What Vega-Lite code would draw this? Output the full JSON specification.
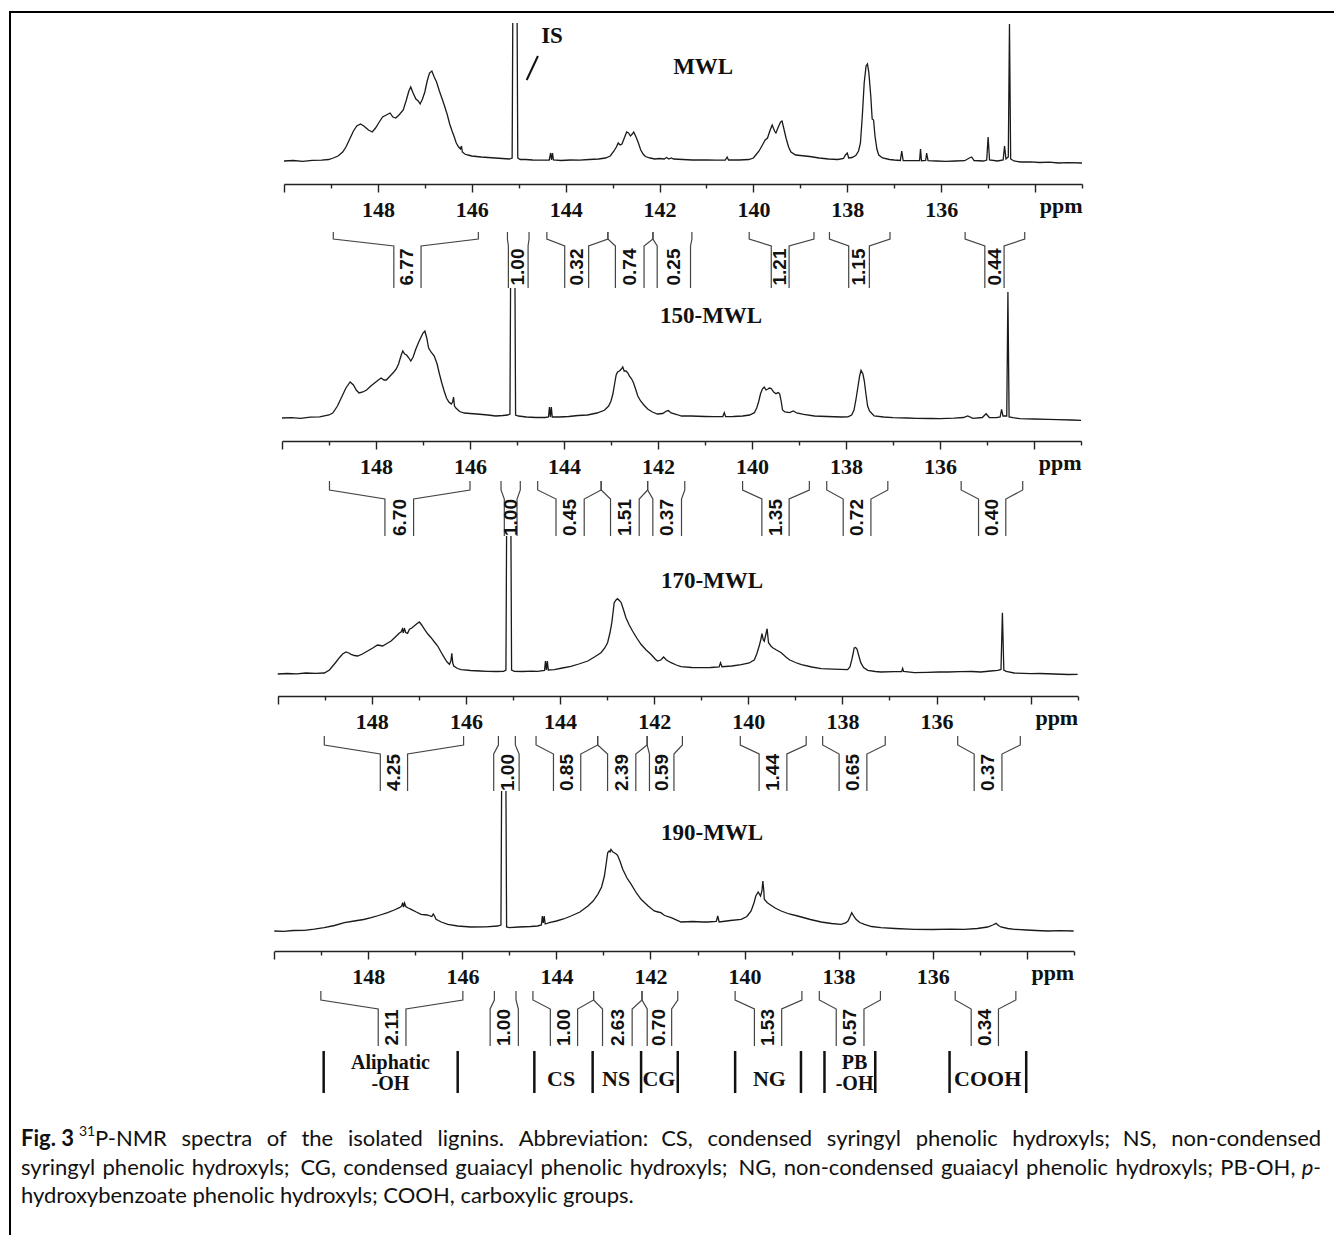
{
"$schema": "https://vega.github.io/schema/vega-lite/v6.json",
"padding": {"left": 8, "top": 10, "right": 0, "bottom": 0},
"background": "white",
"spacing": 0,
"bounds": "flush",
"config": {
 "view": {"stroke": null},
 "axis": {"grid": false, "domainColor": "#222", "domainWidth": 1.5, "tickColor": "#222", "tickWidth": 1.4, "labelFont": "Liberation Serif", "labelFontSize": 22, "labelFontWeight": "bold", "labelColor": "#111", "labelPadding": 7, "labelFlush": false, "labelOverlap": false, "labelBound": false, "format": "d"}
},
"datasets": {
 "s1": [{"ppm":150.0,"v":0},{"ppm":149.8,"v":0.5},{"ppm":149.6,"v":-0.3},{"ppm":149.4,"v":0.6},{"ppm":149.2,"v":0.8},{"ppm":149.05,"v":1.5},{"ppm":148.95,"v":3},{"ppm":148.85,"v":5},{"ppm":148.75,"v":9},{"ppm":148.68,"v":14},{"ppm":148.6,"v":22},{"ppm":148.52,"v":30},{"ppm":148.45,"v":35},{"ppm":148.37,"v":37},{"ppm":148.3,"v":35},{"ppm":148.2,"v":31},{"ppm":148.12,"v":29},{"ppm":148.05,"v":33},{"ppm":147.97,"v":39},{"ppm":147.9,"v":44},{"ppm":147.82,"v":46},{"ppm":147.74,"v":48},{"ppm":147.68,"v":44},{"ppm":147.62,"v":43},{"ppm":147.55,"v":46},{"ppm":147.46,"v":51},{"ppm":147.4,"v":60},{"ppm":147.34,"v":70},{"ppm":147.3,"v":74},{"ppm":147.25,"v":68},{"ppm":147.19,"v":62},{"ppm":147.14,"v":60},{"ppm":147.1,"v":57},{"ppm":147.05,"v":62},{"ppm":147.0,"v":69},{"ppm":146.95,"v":80},{"ppm":146.9,"v":88},{"ppm":146.85,"v":90},{"ppm":146.8,"v":84},{"ppm":146.75,"v":79},{"ppm":146.69,"v":70},{"ppm":146.63,"v":62},{"ppm":146.58,"v":55},{"ppm":146.52,"v":46},{"ppm":146.47,"v":37},{"ppm":146.42,"v":30},{"ppm":146.38,"v":25},{"ppm":146.33,"v":18},{"ppm":146.28,"v":14},{"ppm":146.24,"v":12},{"ppm":146.22,"v":15},{"ppm":146.2,"v":9},{"ppm":146.15,"v":7},{"ppm":146.08,"v":6},{"ppm":146.0,"v":5},{"ppm":145.9,"v":4.5},{"ppm":145.8,"v":4},{"ppm":145.65,"v":3.5},{"ppm":145.5,"v":3},{"ppm":145.35,"v":2.5},{"ppm":145.2,"v":2},{"ppm":145.14,"v":3},{"ppm":145.11,"v":300},{"ppm":145.05,"v":300},{"ppm":145.02,"v":3},{"ppm":144.97,"v":1.5},{"ppm":144.85,"v":1.5},{"ppm":144.7,"v":1},{"ppm":144.5,"v":0.8},{"ppm":144.35,"v":1},{"ppm":144.32,"v":8},{"ppm":144.3,"v":1},{"ppm":144.28,"v":8},{"ppm":144.26,"v":1},{"ppm":144.1,"v":0.5},{"ppm":143.9,"v":1},{"ppm":143.7,"v":0.8},{"ppm":143.5,"v":1.5},{"ppm":143.3,"v":2},{"ppm":143.15,"v":3},{"ppm":143.05,"v":5},{"ppm":142.97,"v":10},{"ppm":142.92,"v":14},{"ppm":142.88,"v":18},{"ppm":142.84,"v":16},{"ppm":142.8,"v":17},{"ppm":142.75,"v":23},{"ppm":142.7,"v":29},{"ppm":142.66,"v":28},{"ppm":142.62,"v":25},{"ppm":142.58,"v":27},{"ppm":142.55,"v":29},{"ppm":142.5,"v":24},{"ppm":142.45,"v":18},{"ppm":142.4,"v":11},{"ppm":142.35,"v":7},{"ppm":142.3,"v":4.5},{"ppm":142.2,"v":3},{"ppm":142.1,"v":2},{"ppm":142.0,"v":2.5},{"ppm":141.9,"v":2},{"ppm":141.85,"v":3.5},{"ppm":141.8,"v":2},{"ppm":141.75,"v":3},{"ppm":141.7,"v":2},{"ppm":141.5,"v":1.5},{"ppm":141.3,"v":1},{"ppm":141.0,"v":1},{"ppm":140.8,"v":0.8},{"ppm":140.6,"v":1},{"ppm":140.56,"v":4},{"ppm":140.53,"v":1},{"ppm":140.3,"v":1},{"ppm":140.1,"v":1.5},{"ppm":140.0,"v":3},{"ppm":139.95,"v":6},{"ppm":139.88,"v":10},{"ppm":139.82,"v":15},{"ppm":139.75,"v":21},{"ppm":139.7,"v":23},{"ppm":139.65,"v":30},{"ppm":139.6,"v":36},{"ppm":139.55,"v":30},{"ppm":139.52,"v":28},{"ppm":139.47,"v":34},{"ppm":139.42,"v":39},{"ppm":139.39,"v":40},{"ppm":139.35,"v":32},{"ppm":139.3,"v":22},{"ppm":139.25,"v":14},{"ppm":139.2,"v":9},{"ppm":139.1,"v":6},{"ppm":139.0,"v":5.5},{"ppm":138.9,"v":5},{"ppm":138.8,"v":4.5},{"ppm":138.6,"v":3},{"ppm":138.4,"v":2},{"ppm":138.2,"v":1.5},{"ppm":138.08,"v":2.5},{"ppm":138.04,"v":6},{"ppm":138.0,"v":8},{"ppm":137.97,"v":3},{"ppm":137.9,"v":3.5},{"ppm":137.82,"v":5.5},{"ppm":137.76,"v":10},{"ppm":137.72,"v":18},{"ppm":137.68,"v":45},{"ppm":137.64,"v":78},{"ppm":137.6,"v":95},{"ppm":137.57,"v":97},{"ppm":137.54,"v":88},{"ppm":137.5,"v":65},{"ppm":137.47,"v":42},{"ppm":137.44,"v":41},{"ppm":137.41,"v":25},{"ppm":137.37,"v":12},{"ppm":137.33,"v":6},{"ppm":137.25,"v":3},{"ppm":137.1,"v":1.5},{"ppm":137.0,"v":1},{"ppm":136.87,"v":0.5},{"ppm":136.84,"v":10},{"ppm":136.81,"v":0.5},{"ppm":136.6,"v":0.3},{"ppm":136.46,"v":0.5},{"ppm":136.44,"v":12},{"ppm":136.42,"v":0.3},{"ppm":136.33,"v":0.5},{"ppm":136.31,"v":8},{"ppm":136.28,"v":0.3},{"ppm":136.1,"v":0},{"ppm":135.9,"v":-0.3},{"ppm":135.7,"v":0},{"ppm":135.5,"v":0.3},{"ppm":135.4,"v":3},{"ppm":135.35,"v":4},{"ppm":135.3,"v":0.5},{"ppm":135.1,"v":0},{"ppm":135.03,"v":1},{"ppm":135.0,"v":24},{"ppm":134.97,"v":1},{"ppm":134.8,"v":0},{"ppm":134.68,"v":1},{"ppm":134.65,"v":15},{"ppm":134.62,"v":2},{"ppm":134.57,"v":4},{"ppm":134.545,"v":137},{"ppm":134.52,"v":2},{"ppm":134.45,"v":0},{"ppm":134.3,"v":-1},{"ppm":134.1,"v":-0.8},{"ppm":133.9,"v":-1.5},{"ppm":133.7,"v":-1.2},{"ppm":133.5,"v":-2},{"ppm":133.3,"v":-1.6},{"ppm":133.0,"v":-2}],
 "s2": [{"ppm":150.0,"v":0},{"ppm":149.8,"v":0.3},{"ppm":149.6,"v":-0.4},{"ppm":149.4,"v":0.8},{"ppm":149.2,"v":1.2},{"ppm":149.0,"v":3},{"ppm":148.92,"v":5},{"ppm":148.82,"v":12},{"ppm":148.74,"v":20},{"ppm":148.64,"v":30},{"ppm":148.55,"v":36},{"ppm":148.48,"v":33},{"ppm":148.42,"v":28},{"ppm":148.36,"v":25},{"ppm":148.28,"v":26},{"ppm":148.2,"v":28},{"ppm":148.11,"v":32},{"ppm":148.03,"v":35},{"ppm":147.95,"v":38},{"ppm":147.89,"v":40},{"ppm":147.83,"v":38},{"ppm":147.78,"v":38},{"ppm":147.7,"v":42},{"ppm":147.62,"v":46},{"ppm":147.57,"v":49},{"ppm":147.52,"v":54},{"ppm":147.47,"v":62},{"ppm":147.43,"v":67},{"ppm":147.39,"v":64},{"ppm":147.35,"v":63},{"ppm":147.3,"v":60},{"ppm":147.26,"v":57},{"ppm":147.21,"v":61},{"ppm":147.16,"v":68},{"ppm":147.1,"v":75},{"ppm":147.05,"v":80},{"ppm":147.0,"v":85},{"ppm":146.96,"v":87},{"ppm":146.92,"v":80},{"ppm":146.88,"v":70},{"ppm":146.83,"v":66},{"ppm":146.76,"v":62},{"ppm":146.7,"v":54},{"ppm":146.65,"v":44},{"ppm":146.6,"v":35},{"ppm":146.55,"v":27},{"ppm":146.5,"v":20},{"ppm":146.45,"v":16},{"ppm":146.4,"v":14},{"ppm":146.37,"v":16},{"ppm":146.35,"v":21},{"ppm":146.33,"v":12},{"ppm":146.3,"v":10},{"ppm":146.22,"v":6.5},{"ppm":146.12,"v":5},{"ppm":146.0,"v":4.5},{"ppm":145.85,"v":4},{"ppm":145.62,"v":3},{"ppm":145.45,"v":2},{"ppm":145.3,"v":2.5},{"ppm":145.2,"v":3},{"ppm":145.15,"v":4},{"ppm":145.12,"v":300},{"ppm":145.06,"v":300},{"ppm":145.03,"v":3},{"ppm":144.97,"v":2},{"ppm":144.8,"v":1},{"ppm":144.6,"v":0.5},{"ppm":144.4,"v":0.5},{"ppm":144.33,"v":1},{"ppm":144.31,"v":11},{"ppm":144.29,"v":1},{"ppm":144.27,"v":11},{"ppm":144.25,"v":1},{"ppm":144.1,"v":1},{"ppm":143.9,"v":1.5},{"ppm":143.7,"v":2.5},{"ppm":143.5,"v":3},{"ppm":143.3,"v":5},{"ppm":143.14,"v":7.7},{"ppm":143.05,"v":12},{"ppm":143.0,"v":17},{"ppm":142.96,"v":24},{"ppm":142.92,"v":35},{"ppm":142.89,"v":43},{"ppm":142.86,"v":46},{"ppm":142.82,"v":47},{"ppm":142.78,"v":49},{"ppm":142.75,"v":51},{"ppm":142.72,"v":47},{"ppm":142.68,"v":47},{"ppm":142.64,"v":45},{"ppm":142.61,"v":42},{"ppm":142.56,"v":39},{"ppm":142.52,"v":35},{"ppm":142.47,"v":28},{"ppm":142.43,"v":22},{"ppm":142.37,"v":17},{"ppm":142.3,"v":13},{"ppm":142.22,"v":9},{"ppm":142.12,"v":6},{"ppm":142.01,"v":4},{"ppm":141.9,"v":4.5},{"ppm":141.82,"v":7},{"ppm":141.78,"v":7.5},{"ppm":141.72,"v":5},{"ppm":141.6,"v":3.5},{"ppm":141.5,"v":2},{"ppm":141.3,"v":2},{"ppm":141.0,"v":1.5},{"ppm":140.8,"v":1.3},{"ppm":140.62,"v":1.5},{"ppm":140.59,"v":5.3},{"ppm":140.56,"v":1.3},{"ppm":140.4,"v":1.5},{"ppm":140.2,"v":2},{"ppm":140.05,"v":3},{"ppm":139.95,"v":5.3},{"ppm":139.9,"v":10},{"ppm":139.86,"v":16},{"ppm":139.82,"v":24},{"ppm":139.78,"v":29},{"ppm":139.74,"v":31},{"ppm":139.7,"v":28},{"ppm":139.66,"v":29},{"ppm":139.63,"v":30},{"ppm":139.59,"v":29.5},{"ppm":139.54,"v":26},{"ppm":139.49,"v":24.3},{"ppm":139.44,"v":25.5},{"ppm":139.41,"v":24},{"ppm":139.38,"v":17},{"ppm":139.35,"v":8},{"ppm":139.3,"v":6},{"ppm":139.2,"v":5.3},{"ppm":139.12,"v":7},{"ppm":139.05,"v":5},{"ppm":138.9,"v":3.7},{"ppm":138.67,"v":2},{"ppm":138.4,"v":1.5},{"ppm":138.1,"v":1},{"ppm":137.96,"v":1.2},{"ppm":137.88,"v":3},{"ppm":137.83,"v":8},{"ppm":137.79,"v":18},{"ppm":137.75,"v":30},{"ppm":137.71,"v":42},{"ppm":137.68,"v":47.7},{"ppm":137.64,"v":44},{"ppm":137.61,"v":37},{"ppm":137.57,"v":22},{"ppm":137.54,"v":12},{"ppm":137.5,"v":7},{"ppm":137.45,"v":4.5},{"ppm":137.4,"v":2},{"ppm":137.2,"v":1},{"ppm":137.0,"v":0.3},{"ppm":136.7,"v":0},{"ppm":136.5,"v":-0.3},{"ppm":136.2,"v":-0.5},{"ppm":136.0,"v":-0.7},{"ppm":135.7,"v":-0.2},{"ppm":135.5,"v":0.5},{"ppm":135.41,"v":2},{"ppm":135.3,"v":-0.3},{"ppm":135.1,"v":0.5},{"ppm":135.02,"v":4.3},{"ppm":134.95,"v":0.5},{"ppm":134.8,"v":0.3},{"ppm":134.72,"v":1},{"ppm":134.69,"v":8.7},{"ppm":134.66,"v":2},{"ppm":134.58,"v":2},{"ppm":134.555,"v":126},{"ppm":134.53,"v":1},{"ppm":134.45,"v":0.3},{"ppm":134.3,"v":-0.7},{"ppm":134.0,"v":-1},{"ppm":133.7,"v":-1.3},{"ppm":133.5,"v":-1.7},{"ppm":133.2,"v":-2},{"ppm":133.0,"v":-2.3}],
 "s3": [{"ppm":150.0,"v":-1},{"ppm":149.8,"v":-0.5},{"ppm":149.6,"v":-0.8},{"ppm":149.4,"v":0},{"ppm":149.2,"v":-0.3},{"ppm":149.01,"v":0},{"ppm":148.9,"v":3},{"ppm":148.83,"v":7},{"ppm":148.76,"v":11},{"ppm":148.69,"v":15.3},{"ppm":148.62,"v":19},{"ppm":148.55,"v":21},{"ppm":148.49,"v":20},{"ppm":148.44,"v":18.7},{"ppm":148.37,"v":17.5},{"ppm":148.3,"v":17},{"ppm":148.2,"v":19},{"ppm":148.09,"v":22},{"ppm":147.98,"v":25},{"ppm":147.88,"v":28},{"ppm":147.82,"v":27.5},{"ppm":147.77,"v":27},{"ppm":147.68,"v":29.5},{"ppm":147.59,"v":32},{"ppm":147.5,"v":36},{"ppm":147.42,"v":39.7},{"ppm":147.38,"v":41},{"ppm":147.35,"v":44},{"ppm":147.33,"v":40},{"ppm":147.31,"v":45},{"ppm":147.28,"v":40.5},{"ppm":147.24,"v":39.7},{"ppm":147.2,"v":43.7},{"ppm":147.15,"v":45},{"ppm":147.1,"v":47},{"ppm":147.05,"v":49},{"ppm":146.99,"v":51},{"ppm":146.94,"v":48},{"ppm":146.88,"v":43.7},{"ppm":146.81,"v":39},{"ppm":146.74,"v":35.3},{"ppm":146.67,"v":31},{"ppm":146.6,"v":27},{"ppm":146.53,"v":21},{"ppm":146.46,"v":15.3},{"ppm":146.4,"v":11},{"ppm":146.35,"v":8.7},{"ppm":146.32,"v":12},{"ppm":146.3,"v":19.7},{"ppm":146.28,"v":10},{"ppm":146.26,"v":7},{"ppm":146.18,"v":4.5},{"ppm":146.1,"v":3.3},{"ppm":145.9,"v":2.5},{"ppm":145.7,"v":2},{"ppm":145.54,"v":1.7},{"ppm":145.35,"v":1.5},{"ppm":145.2,"v":1.7},{"ppm":145.15,"v":3},{"ppm":145.12,"v":300},{"ppm":145.06,"v":300},{"ppm":145.03,"v":3},{"ppm":144.97,"v":1.7},{"ppm":144.8,"v":1.5},{"ppm":144.6,"v":1.8},{"ppm":144.48,"v":1.7},{"ppm":144.33,"v":2.5},{"ppm":144.31,"v":12},{"ppm":144.29,"v":3},{"ppm":144.27,"v":12},{"ppm":144.25,"v":3},{"ppm":144.12,"v":3.3},{"ppm":143.95,"v":5},{"ppm":143.77,"v":6.7},{"ppm":143.6,"v":9},{"ppm":143.41,"v":12},{"ppm":143.27,"v":16},{"ppm":143.13,"v":20.3},{"ppm":143.05,"v":25},{"ppm":142.99,"v":30.3},{"ppm":142.94,"v":40},{"ppm":142.9,"v":50.3},{"ppm":142.87,"v":62},{"ppm":142.85,"v":70.3},{"ppm":142.81,"v":73},{"ppm":142.78,"v":74.3},{"ppm":142.74,"v":72.5},{"ppm":142.7,"v":70.3},{"ppm":142.65,"v":63},{"ppm":142.6,"v":55.3},{"ppm":142.53,"v":48},{"ppm":142.46,"v":42},{"ppm":142.37,"v":35},{"ppm":142.28,"v":28.7},{"ppm":142.17,"v":23},{"ppm":142.07,"v":18.7},{"ppm":141.98,"v":14},{"ppm":141.93,"v":12},{"ppm":141.86,"v":13},{"ppm":141.8,"v":16},{"ppm":141.74,"v":13},{"ppm":141.64,"v":10.3},{"ppm":141.53,"v":8},{"ppm":141.43,"v":6.3},{"ppm":141.2,"v":5.5},{"ppm":141.0,"v":5.3},{"ppm":140.8,"v":5.5},{"ppm":140.62,"v":6},{"ppm":140.59,"v":10.3},{"ppm":140.56,"v":6.3},{"ppm":140.35,"v":7},{"ppm":140.15,"v":8.3},{"ppm":139.98,"v":10},{"ppm":139.87,"v":13.3},{"ppm":139.82,"v":19},{"ppm":139.77,"v":26.7},{"ppm":139.73,"v":34},{"ppm":139.71,"v":39.3},{"ppm":139.68,"v":33},{"ppm":139.66,"v":31.7},{"ppm":139.63,"v":38},{"ppm":139.6,"v":44.3},{"ppm":139.57,"v":30.3},{"ppm":139.52,"v":27},{"ppm":139.48,"v":25.3},{"ppm":139.4,"v":23},{"ppm":139.3,"v":20.3},{"ppm":139.2,"v":16},{"ppm":139.12,"v":13},{"ppm":139.09,"v":12.5},{"ppm":139.0,"v":10.5},{"ppm":138.87,"v":8.3},{"ppm":138.65,"v":6},{"ppm":138.45,"v":4.3},{"ppm":138.2,"v":3.8},{"ppm":137.89,"v":3.3},{"ppm":137.84,"v":6},{"ppm":137.8,"v":13.3},{"ppm":137.77,"v":20},{"ppm":137.75,"v":25},{"ppm":137.72,"v":25.5},{"ppm":137.69,"v":24},{"ppm":137.65,"v":17},{"ppm":137.61,"v":10.3},{"ppm":137.55,"v":5.5},{"ppm":137.46,"v":2.7},{"ppm":137.3,"v":1.5},{"ppm":137.18,"v":1},{"ppm":136.9,"v":1.3},{"ppm":136.74,"v":1.5},{"ppm":136.72,"v":4.5},{"ppm":136.7,"v":1.5},{"ppm":136.47,"v":0.3},{"ppm":136.2,"v":0.7},{"ppm":135.95,"v":1},{"ppm":135.76,"v":1},{"ppm":135.5,"v":1.3},{"ppm":135.25,"v":1.5},{"ppm":135.06,"v":1},{"ppm":134.85,"v":2},{"ppm":134.7,"v":2.7},{"ppm":134.63,"v":3.5},{"ppm":134.6,"v":60.3},{"ppm":134.57,"v":3},{"ppm":134.52,"v":1.7},{"ppm":134.35,"v":0},{"ppm":134.15,"v":-0.3},{"ppm":133.99,"v":-0.7},{"ppm":133.8,"v":-0.5},{"ppm":133.5,"v":-1},{"ppm":133.2,"v":-1.5},{"ppm":133.0,"v":-1.3}],
 "s4": [{"ppm":150.0,"v":0},{"ppm":149.8,"v":-0.3},{"ppm":149.6,"v":0.5},{"ppm":149.36,"v":0.7},{"ppm":149.15,"v":1.8},{"ppm":148.94,"v":3.3},{"ppm":148.72,"v":5.5},{"ppm":148.51,"v":8.3},{"ppm":148.3,"v":10},{"ppm":148.1,"v":11.5},{"ppm":147.94,"v":13.3},{"ppm":147.78,"v":15.5},{"ppm":147.59,"v":18.3},{"ppm":147.45,"v":21},{"ppm":147.34,"v":23.3},{"ppm":147.29,"v":25},{"ppm":147.27,"v":28.3},{"ppm":147.25,"v":24},{"ppm":147.23,"v":28},{"ppm":147.2,"v":24.3},{"ppm":147.15,"v":23},{"ppm":147.09,"v":21.7},{"ppm":146.98,"v":19},{"ppm":146.88,"v":16.7},{"ppm":146.75,"v":16},{"ppm":146.65,"v":14.5},{"ppm":146.62,"v":17},{"ppm":146.6,"v":15.7},{"ppm":146.56,"v":11.7},{"ppm":146.45,"v":9},{"ppm":146.31,"v":6.7},{"ppm":146.1,"v":5},{"ppm":145.82,"v":4},{"ppm":145.5,"v":4.2},{"ppm":145.25,"v":5},{"ppm":145.18,"v":6},{"ppm":145.15,"v":300},{"ppm":145.09,"v":300},{"ppm":145.06,"v":4},{"ppm":145.0,"v":3.3},{"ppm":144.8,"v":4},{"ppm":144.55,"v":4.5},{"ppm":144.4,"v":5},{"ppm":144.32,"v":6},{"ppm":144.3,"v":15},{"ppm":144.28,"v":8},{"ppm":144.26,"v":15},{"ppm":144.24,"v":7},{"ppm":144.15,"v":8.3},{"ppm":144.0,"v":10},{"ppm":143.85,"v":12},{"ppm":143.69,"v":15},{"ppm":143.5,"v":19},{"ppm":143.33,"v":25},{"ppm":143.22,"v":30},{"ppm":143.12,"v":36.7},{"ppm":143.04,"v":44},{"ppm":142.98,"v":55},{"ppm":142.94,"v":68},{"ppm":142.91,"v":78.3},{"ppm":142.88,"v":80},{"ppm":142.86,"v":79},{"ppm":142.84,"v":81.7},{"ppm":142.8,"v":79},{"ppm":142.77,"v":78.3},{"ppm":142.73,"v":77},{"ppm":142.7,"v":75.7},{"ppm":142.65,"v":70},{"ppm":142.59,"v":61.7},{"ppm":142.5,"v":53},{"ppm":142.41,"v":46.7},{"ppm":142.3,"v":38},{"ppm":142.2,"v":31.7},{"ppm":142.05,"v":25},{"ppm":141.92,"v":20},{"ppm":141.84,"v":19},{"ppm":141.78,"v":18.3},{"ppm":141.7,"v":15.5},{"ppm":141.56,"v":13.3},{"ppm":141.35,"v":9},{"ppm":141.1,"v":9.5},{"ppm":140.9,"v":9},{"ppm":140.78,"v":9},{"ppm":140.6,"v":9.5},{"ppm":140.57,"v":15},{"ppm":140.54,"v":9},{"ppm":140.3,"v":10.5},{"ppm":140.07,"v":11.7},{"ppm":139.95,"v":14.5},{"ppm":139.86,"v":20},{"ppm":139.8,"v":28},{"ppm":139.76,"v":35},{"ppm":139.71,"v":39},{"ppm":139.66,"v":35},{"ppm":139.63,"v":40},{"ppm":139.61,"v":50},{"ppm":139.59,"v":40},{"ppm":139.58,"v":31.7},{"ppm":139.52,"v":28.5},{"ppm":139.47,"v":26.7},{"ppm":139.35,"v":23},{"ppm":139.22,"v":20},{"ppm":139.05,"v":17},{"ppm":138.87,"v":15},{"ppm":138.6,"v":11.5},{"ppm":138.37,"v":9},{"ppm":138.15,"v":7.5},{"ppm":137.95,"v":6.7},{"ppm":137.85,"v":8},{"ppm":137.8,"v":10},{"ppm":137.76,"v":14},{"ppm":137.72,"v":18.3},{"ppm":137.68,"v":15},{"ppm":137.63,"v":11.7},{"ppm":137.55,"v":8.5},{"ppm":137.45,"v":6.7},{"ppm":137.3,"v":4.5},{"ppm":137.1,"v":3.3},{"ppm":136.8,"v":2.5},{"ppm":136.39,"v":1.7},{"ppm":136.0,"v":1.5},{"ppm":135.6,"v":1.8},{"ppm":135.33,"v":1.7},{"ppm":135.05,"v":2.5},{"ppm":134.83,"v":4},{"ppm":134.72,"v":6},{"ppm":134.65,"v":7.7},{"ppm":134.6,"v":5.5},{"ppm":134.55,"v":4},{"ppm":134.4,"v":2.5},{"ppm":134.26,"v":1.7},{"ppm":134.0,"v":1},{"ppm":133.8,"v":0.5},{"ppm":133.55,"v":0},{"ppm":133.3,"v":0.3},{"ppm":133.0,"v":0}],
 "b1": [{"g":"aL","ppm":148.95,"d":0},{"g":"aL","ppm":148.95,"d":1},{"g":"aL","ppm":147.66,"d":2},{"g":"aL","ppm":147.66,"d":3},{"g":"aR","ppm":145.86,"d":0},{"g":"aR","ppm":145.86,"d":1},{"g":"aR","ppm":147.08,"d":2},{"g":"aR","ppm":147.08,"d":3},
  {"g":"bL","ppm":145.24,"d":0},{"g":"bL","ppm":145.24,"d":1},{"g":"bL","ppm":145.22,"d":2},{"g":"bL","ppm":145.22,"d":3},{"g":"bR","ppm":144.78,"d":0},{"g":"bR","ppm":144.78,"d":1},{"g":"bR","ppm":144.8,"d":2},{"g":"bR","ppm":144.8,"d":3},
  {"g":"cL","ppm":144.4,"d":0},{"g":"cL","ppm":144.4,"d":1},{"g":"cL","ppm":144.02,"d":2},{"g":"cL","ppm":144.02,"d":3},{"g":"cR","ppm":143.1,"d":0},{"g":"cR","ppm":143.1,"d":1},{"g":"cR","ppm":143.51,"d":2},{"g":"cR","ppm":143.51,"d":3},
  {"g":"dL","ppm":143.1,"d":0},{"g":"dL","ppm":143.1,"d":1},{"g":"dL","ppm":142.94,"d":2},{"g":"dL","ppm":142.94,"d":3},{"g":"dR","ppm":142.14,"d":0},{"g":"dR","ppm":142.14,"d":1},{"g":"dR","ppm":142.33,"d":2},{"g":"dR","ppm":142.33,"d":3},
  {"g":"eL","ppm":142.14,"d":0},{"g":"eL","ppm":142.14,"d":1},{"g":"eL","ppm":142.05,"d":2},{"g":"eL","ppm":142.05,"d":3},{"g":"eR","ppm":141.31,"d":0},{"g":"eR","ppm":141.31,"d":1},{"g":"eR","ppm":141.34,"d":2},{"g":"eR","ppm":141.34,"d":3},
  {"g":"fL","ppm":140.09,"d":0},{"g":"fL","ppm":140.09,"d":1},{"g":"fL","ppm":139.62,"d":2},{"g":"fL","ppm":139.62,"d":3},{"g":"fR","ppm":138.71,"d":0},{"g":"fR","ppm":138.71,"d":1},{"g":"fR","ppm":139.24,"d":2},{"g":"fR","ppm":139.24,"d":3},
  {"g":"gL","ppm":138.38,"d":0},{"g":"gL","ppm":138.38,"d":1},{"g":"gL","ppm":137.97,"d":2},{"g":"gL","ppm":137.97,"d":3},{"g":"gR","ppm":137.09,"d":0},{"g":"gR","ppm":137.09,"d":1},{"g":"gR","ppm":137.53,"d":2},{"g":"gR","ppm":137.53,"d":3},
  {"g":"hL","ppm":135.49,"d":0},{"g":"hL","ppm":135.49,"d":1},{"g":"hL","ppm":135.07,"d":2},{"g":"hL","ppm":135.07,"d":3},{"g":"hR","ppm":134.22,"d":0},{"g":"hR","ppm":134.22,"d":1},{"g":"hR","ppm":134.66,"d":2},{"g":"hR","ppm":134.66,"d":3}],
 "b2": [{"g":"aL","ppm":148.99,"d":0},{"g":"aL","ppm":148.99,"d":1},{"g":"aL","ppm":147.81,"d":2},{"g":"aL","ppm":147.81,"d":3},{"g":"aR","ppm":146.0,"d":0},{"g":"aR","ppm":146.0,"d":1},{"g":"aR","ppm":147.2,"d":2},{"g":"aR","ppm":147.2,"d":3},
  {"g":"bL","ppm":145.34,"d":0},{"g":"bL","ppm":145.34,"d":1},{"g":"bL","ppm":145.27,"d":2},{"g":"bL","ppm":145.27,"d":3},{"g":"bR","ppm":144.93,"d":0},{"g":"bR","ppm":144.93,"d":1},{"g":"bR","ppm":145.0,"d":2},{"g":"bR","ppm":145.0,"d":3},
  {"g":"cL","ppm":144.56,"d":0},{"g":"cL","ppm":144.56,"d":1},{"g":"cL","ppm":144.17,"d":2},{"g":"cL","ppm":144.17,"d":3},{"g":"cR","ppm":143.21,"d":0},{"g":"cR","ppm":143.21,"d":1},{"g":"cR","ppm":143.57,"d":2},{"g":"cR","ppm":143.57,"d":3},
  {"g":"dL","ppm":143.21,"d":0},{"g":"dL","ppm":143.21,"d":1},{"g":"dL","ppm":143.01,"d":2},{"g":"dL","ppm":143.01,"d":3},{"g":"dR","ppm":142.22,"d":0},{"g":"dR","ppm":142.22,"d":1},{"g":"dR","ppm":142.4,"d":2},{"g":"dR","ppm":142.4,"d":3},
  {"g":"eL","ppm":142.22,"d":0},{"g":"eL","ppm":142.22,"d":1},{"g":"eL","ppm":142.11,"d":2},{"g":"eL","ppm":142.11,"d":3},{"g":"eR","ppm":141.43,"d":0},{"g":"eR","ppm":141.43,"d":1},{"g":"eR","ppm":141.5,"d":2},{"g":"eR","ppm":141.5,"d":3},
  {"g":"fL","ppm":140.2,"d":0},{"g":"fL","ppm":140.2,"d":1},{"g":"fL","ppm":139.79,"d":2},{"g":"fL","ppm":139.79,"d":3},{"g":"fR","ppm":138.78,"d":0},{"g":"fR","ppm":138.78,"d":1},{"g":"fR","ppm":139.21,"d":2},{"g":"fR","ppm":139.21,"d":3},
  {"g":"gL","ppm":138.41,"d":0},{"g":"gL","ppm":138.41,"d":1},{"g":"gL","ppm":138.06,"d":2},{"g":"gL","ppm":138.06,"d":3},{"g":"gR","ppm":137.11,"d":0},{"g":"gR","ppm":137.11,"d":1},{"g":"gR","ppm":137.47,"d":2},{"g":"gR","ppm":137.47,"d":3},
  {"g":"hL","ppm":135.55,"d":0},{"g":"hL","ppm":135.55,"d":1},{"g":"hL","ppm":135.18,"d":2},{"g":"hL","ppm":135.18,"d":3},{"g":"hR","ppm":134.24,"d":0},{"g":"hR","ppm":134.24,"d":1},{"g":"hR","ppm":134.6,"d":2},{"g":"hR","ppm":134.6,"d":3}],
 "b3": [{"g":"aL","ppm":149.01,"d":0},{"g":"aL","ppm":149.01,"d":1},{"g":"aL","ppm":147.82,"d":2},{"g":"aL","ppm":147.82,"d":3},{"g":"aR","ppm":146.05,"d":0},{"g":"aR","ppm":146.05,"d":1},{"g":"aR","ppm":147.24,"d":2},{"g":"aR","ppm":147.24,"d":3},
  {"g":"bL","ppm":145.31,"d":0},{"g":"bL","ppm":145.31,"d":1},{"g":"bL","ppm":145.41,"d":2},{"g":"bL","ppm":145.41,"d":3},{"g":"bR","ppm":144.95,"d":0},{"g":"bR","ppm":144.95,"d":1},{"g":"bR","ppm":144.87,"d":2},{"g":"bR","ppm":144.87,"d":3},
  {"g":"cL","ppm":144.51,"d":0},{"g":"cL","ppm":144.51,"d":1},{"g":"cL","ppm":144.14,"d":2},{"g":"cL","ppm":144.14,"d":3},{"g":"cR","ppm":143.2,"d":0},{"g":"cR","ppm":143.2,"d":1},{"g":"cR","ppm":143.56,"d":2},{"g":"cR","ppm":143.56,"d":3},
  {"g":"dL","ppm":143.2,"d":0},{"g":"dL","ppm":143.2,"d":1},{"g":"dL","ppm":142.99,"d":2},{"g":"dL","ppm":142.99,"d":3},{"g":"dR","ppm":142.15,"d":0},{"g":"dR","ppm":142.15,"d":1},{"g":"dR","ppm":142.39,"d":2},{"g":"dR","ppm":142.39,"d":3},
  {"g":"eL","ppm":142.15,"d":0},{"g":"eL","ppm":142.15,"d":1},{"g":"eL","ppm":142.1,"d":2},{"g":"eL","ppm":142.1,"d":3},{"g":"eR","ppm":141.4,"d":0},{"g":"eR","ppm":141.4,"d":1},{"g":"eR","ppm":141.58,"d":2},{"g":"eR","ppm":141.58,"d":3},
  {"g":"fL","ppm":140.17,"d":0},{"g":"fL","ppm":140.17,"d":1},{"g":"fL","ppm":139.77,"d":2},{"g":"fL","ppm":139.77,"d":3},{"g":"fR","ppm":138.77,"d":0},{"g":"fR","ppm":138.77,"d":1},{"g":"fR","ppm":139.18,"d":2},{"g":"fR","ppm":139.18,"d":3},
  {"g":"gL","ppm":138.42,"d":0},{"g":"gL","ppm":138.42,"d":1},{"g":"gL","ppm":138.07,"d":2},{"g":"gL","ppm":138.07,"d":3},{"g":"gR","ppm":137.09,"d":0},{"g":"gR","ppm":137.09,"d":1},{"g":"gR","ppm":137.48,"d":2},{"g":"gR","ppm":137.48,"d":3},
  {"g":"hL","ppm":135.55,"d":0},{"g":"hL","ppm":135.55,"d":1},{"g":"hL","ppm":135.2,"d":2},{"g":"hL","ppm":135.2,"d":3},{"g":"hR","ppm":134.22,"d":0},{"g":"hR","ppm":134.22,"d":1},{"g":"hR","ppm":134.61,"d":2},{"g":"hR","ppm":134.61,"d":3}],
 "b4": [{"g":"aL","ppm":149.01,"d":0},{"g":"aL","ppm":149.01,"d":1},{"g":"aL","ppm":147.79,"d":2},{"g":"aL","ppm":147.79,"d":3},{"g":"aR","ppm":145.99,"d":0},{"g":"aR","ppm":145.99,"d":1},{"g":"aR","ppm":147.2,"d":2},{"g":"aR","ppm":147.2,"d":3},
  {"g":"bL","ppm":145.32,"d":0},{"g":"bL","ppm":145.32,"d":1},{"g":"bL","ppm":145.41,"d":2},{"g":"bL","ppm":145.41,"d":3},{"g":"bR","ppm":144.86,"d":0},{"g":"bR","ppm":144.86,"d":1},{"g":"bR","ppm":144.81,"d":2},{"g":"bR","ppm":144.81,"d":3},
  {"g":"cL","ppm":144.5,"d":0},{"g":"cL","ppm":144.5,"d":1},{"g":"cL","ppm":144.13,"d":2},{"g":"cL","ppm":144.13,"d":3},{"g":"cR","ppm":143.21,"d":0},{"g":"cR","ppm":143.21,"d":1},{"g":"cR","ppm":143.55,"d":2},{"g":"cR","ppm":143.55,"d":3},
  {"g":"dL","ppm":143.21,"d":0},{"g":"dL","ppm":143.21,"d":1},{"g":"dL","ppm":143.02,"d":2},{"g":"dL","ppm":143.02,"d":3},{"g":"dR","ppm":142.18,"d":0},{"g":"dR","ppm":142.18,"d":1},{"g":"dR","ppm":142.39,"d":2},{"g":"dR","ppm":142.39,"d":3},
  {"g":"eL","ppm":142.18,"d":0},{"g":"eL","ppm":142.18,"d":1},{"g":"eL","ppm":142.07,"d":2},{"g":"eL","ppm":142.07,"d":3},{"g":"eR","ppm":141.42,"d":0},{"g":"eR","ppm":141.42,"d":1},{"g":"eR","ppm":141.55,"d":2},{"g":"eR","ppm":141.55,"d":3},
  {"g":"fL","ppm":140.2,"d":0},{"g":"fL","ppm":140.2,"d":1},{"g":"fL","ppm":139.79,"d":2},{"g":"fL","ppm":139.79,"d":3},{"g":"fR","ppm":138.78,"d":0},{"g":"fR","ppm":138.78,"d":1},{"g":"fR","ppm":139.21,"d":2},{"g":"fR","ppm":139.21,"d":3},
  {"g":"gL","ppm":138.41,"d":0},{"g":"gL","ppm":138.41,"d":1},{"g":"gL","ppm":138.05,"d":2},{"g":"gL","ppm":138.05,"d":3},{"g":"gR","ppm":137.11,"d":0},{"g":"gR","ppm":137.11,"d":1},{"g":"gR","ppm":137.46,"d":2},{"g":"gR","ppm":137.46,"d":3},
  {"g":"hL","ppm":135.52,"d":0},{"g":"hL","ppm":135.52,"d":1},{"g":"hL","ppm":135.18,"d":2},{"g":"hL","ppm":135.18,"d":3},{"g":"hR","ppm":134.23,"d":0},{"g":"hR","ppm":134.23,"d":1},{"g":"hR","ppm":134.6,"d":2},{"g":"hR","ppm":134.6,"d":3}],
 "l1": [{"ppm":147.37,"t":"6.77"},{"ppm":145.01,"t":"1.00"},{"ppm":143.76,"t":"0.32"},{"ppm":142.63,"t":"0.74"},{"ppm":141.7,"t":"0.25"},{"ppm":139.43,"t":"1.21"},{"ppm":137.75,"t":"1.15"},{"ppm":134.86,"t":"0.44"}],
 "l2": [{"ppm":147.5,"t":"6.70"},{"ppm":145.13,"t":"1.00"},{"ppm":143.87,"t":"0.45"},{"ppm":142.71,"t":"1.51"},{"ppm":141.8,"t":"0.37"},{"ppm":139.5,"t":"1.35"},{"ppm":137.77,"t":"0.72"},{"ppm":134.89,"t":"0.40"}],
 "l3": [{"ppm":147.53,"t":"4.25"},{"ppm":145.1,"t":"1.00"},{"ppm":143.85,"t":"0.85"},{"ppm":142.69,"t":"2.39"},{"ppm":141.84,"t":"0.59"},{"ppm":139.48,"t":"1.44"},{"ppm":137.78,"t":"0.65"},{"ppm":134.9,"t":"0.37"}],
 "l4": [{"ppm":147.5,"t":"2.11"},{"ppm":145.11,"t":"1.00"},{"ppm":143.84,"t":"1.00"},{"ppm":142.7,"t":"2.63"},{"ppm":141.81,"t":"0.70"},{"ppm":139.5,"t":"1.53"},{"ppm":137.76,"t":"0.57"},{"ppm":134.89,"t":"0.34"}]
},
"vconcat": [
 {"width": 1325, "height": 11, "data": {"values": [{}]}, "layer": [
   {"mark": {"type": "rule", "color": "#000", "strokeWidth": 2}, "encoding": {"x": {"datum": 0, "type": "quantitative", "scale": {"domain": [0, 1], "nice": false, "zero": false}, "axis": null}, "x2": {"datum": 1}, "y": {"datum": 1, "type": "quantitative", "scale": {"domain": [0, 1], "nice": false, "zero": false}, "axis": null}}},
   {"mark": {"type": "rule", "color": "#000", "strokeWidth": 2, "strokeCap": "square"}, "encoding": {"x": {"datum": 0, "type": "quantitative"}, "y": {"datum": 0, "type": "quantitative"}, "y2": {"datum": 1}}}
 ]},
 {"hconcat": [
   {"width": 1, "height": 1213, "data": {"values": [{}]}, "mark": {"type": "rule", "color": "#000", "strokeWidth": 2}, "encoding": {"x": {"datum": 0, "type": "quantitative", "scale": {"domain": [0, 1], "nice": false, "zero": false}, "axis": null}, "y": {"datum": 0, "type": "quantitative", "scale": {"domain": [0, 1], "nice": false, "zero": false}, "axis": null}, "y2": {"datum": 1}}},
   {"vconcat": [
     {"width": 1300, "height": 161, "layer": [
       {"data": {"name": "s1"}, "mark": {"type": "line", "color": "#1a1a1a", "strokeWidth": 1.3, "clip": true}, "encoding": {
         "x": {"field": "ppm", "type": "quantitative", "scale": {"domain": [133, 150], "range": [1061, 263], "nice": false, "zero": false}, "axis": {"title": null, "format": "d", "values": [150,149,148,147,146,145,144,143,142,141,140,139,138,137,136,135,134,133], "labelExpr": "datum.value == 133 ? 'ppm' : ((datum.value % 2 == 0 && datum.value >= 136 && datum.value <= 148) ? datum.label : '')", "tickSize": {"condition": {"test": "datum.value % 2 == 0", "value": 8}, "value": 4}, "labelAlign": {"condition": {"test": "datum.value == 133", "value": "right"}, "value": "center"}}},
         "y": {"field": "v", "type": "quantitative", "scale": {"domain": [-23, 138], "nice": false, "zero": false}, "axis": null}}},
       {"data": {"values": [{"ppm": 141.07, "v": 94, "t": "MWL"}, {"ppm": 144.29, "v": 125, "t": "IS"}]}, "mark": {"type": "text", "font": "Liberation Serif", "fontSize": 23, "fontWeight": "bold", "color": "#111"}, "encoding": {"x": {"field": "ppm", "type": "quantitative"}, "y": {"field": "v", "type": "quantitative"}, "text": {"field": "t"}}},
       {"data": {"values": [{"ppm": 144.83, "v": 81}, {"ppm": 144.59, "v": 105}]}, "mark": {"type": "line", "color": "#111", "strokeWidth": 2}, "encoding": {"x": {"field": "ppm", "type": "quantitative"}, "y": {"field": "v", "type": "quantitative"}}}
     ]},
     {"width": 1300, "height": 104, "layer": [
       {"data": {"name": "b1"}, "mark": {"type": "line", "color": "#444", "strokeWidth": 1.2}, "encoding": {"x": {"field": "ppm", "type": "quantitative", "scale": {"domain": [133, 150], "range": [1061, 263], "nice": false, "zero": false}, "axis": null}, "y": {"field": "d", "type": "quantitative", "scale": {"domain": [0, 1, 2, 3], "range": [48, 55, 62, 104], "nice": false, "zero": false}, "axis": null}, "detail": {"field": "g"}, "order": {"field": "d"}}},
       {"data": {"name": "l1"}, "mark": {"type": "text", "font": "Liberation Sans", "fontSize": 19, "fontWeight": "bold", "angle": 270, "color": "#111"}, "encoding": {"x": {"field": "ppm", "type": "quantitative"}, "y": {"datum": 2.5, "type": "quantitative"}, "text": {"field": "t"}}}
     ]},
     {"width": 1300, "height": 153, "layer": [
       {"data": {"name": "s2"}, "mark": {"type": "line", "color": "#1a1a1a", "strokeWidth": 1.3, "clip": true}, "encoding": {
         "x": {"field": "ppm", "type": "quantitative", "scale": {"domain": [133, 150], "range": [1060, 261], "nice": false, "zero": false}, "axis": {"title": null, "format": "d", "values": [150,149,148,147,146,145,144,143,142,141,140,139,138,137,136,135,134,133], "labelExpr": "datum.value == 133 ? 'ppm' : ((datum.value % 2 == 0 && datum.value >= 136 && datum.value <= 148) ? datum.label : '')", "tickSize": {"condition": {"test": "datum.value % 2 == 0", "value": 8}, "value": 4}, "labelAlign": {"condition": {"test": "datum.value == 133", "value": "right"}, "value": "center"}}},
         "y": {"field": "v", "type": "quantitative", "scale": {"domain": [-23, 130], "nice": false, "zero": false}, "axis": null}}},
       {"data": {"values": [{"ppm": 140.87, "v": 102, "t": "150-MWL"}]}, "mark": {"type": "text", "font": "Liberation Serif", "fontSize": 23, "fontWeight": "bold", "color": "#111"}, "encoding": {"x": {"field": "ppm", "type": "quantitative"}, "y": {"field": "v", "type": "quantitative"}, "text": {"field": "t"}}}
     ]},
     {"width": 1300, "height": 95, "layer": [
       {"data": {"name": "b2"}, "mark": {"type": "line", "color": "#444", "strokeWidth": 1.2}, "encoding": {"x": {"field": "ppm", "type": "quantitative", "scale": {"domain": [133, 150], "range": [1060, 261], "nice": false, "zero": false}, "axis": null}, "y": {"field": "d", "type": "quantitative", "scale": {"domain": [0, 1, 2, 3], "range": [40, 49, 58, 95], "nice": false, "zero": false}, "axis": null}, "detail": {"field": "g"}, "order": {"field": "d"}}},
       {"data": {"name": "l2"}, "mark": {"type": "text", "font": "Liberation Sans", "fontSize": 19, "fontWeight": "bold", "angle": 270, "color": "#111"}, "encoding": {"x": {"field": "ppm", "type": "quantitative"}, "y": {"datum": 2.5, "type": "quantitative"}, "text": {"field": "t"}}}
     ]},
     {"width": 1300, "height": 160, "layer": [
       {"data": {"name": "s3"}, "mark": {"type": "line", "color": "#1a1a1a", "strokeWidth": 1.3, "clip": true}, "encoding": {
         "x": {"field": "ppm", "type": "quantitative", "scale": {"domain": [133, 150], "range": [1056.7, 256.7], "nice": false, "zero": false}, "axis": {"title": null, "format": "d", "values": [150,149,148,147,146,145,144,143,142,141,140,139,138,137,136,135,134,133], "labelExpr": "datum.value == 133 ? 'ppm' : ((datum.value % 2 == 0 && datum.value >= 136 && datum.value <= 148) ? datum.label : '')", "tickSize": {"condition": {"test": "datum.value % 2 == 0", "value": 8}, "value": 4}, "labelAlign": {"condition": {"test": "datum.value == 133", "value": "right"}, "value": "center"}}},
         "y": {"field": "v", "type": "quantitative", "scale": {"domain": [-23, 137], "nice": false, "zero": false}, "axis": null}}},
       {"data": {"values": [{"ppm": 140.77, "v": 92, "t": "170-MWL"}]}, "mark": {"type": "text", "font": "Liberation Serif", "fontSize": 23, "fontWeight": "bold", "color": "#111"}, "encoding": {"x": {"field": "ppm", "type": "quantitative"}, "y": {"field": "v", "type": "quantitative"}, "text": {"field": "t"}}}
     ]},
     {"width": 1300, "height": 95, "layer": [
       {"data": {"name": "b3"}, "mark": {"type": "line", "color": "#444", "strokeWidth": 1.2}, "encoding": {"x": {"field": "ppm", "type": "quantitative", "scale": {"domain": [133, 150], "range": [1056.7, 256.7], "nice": false, "zero": false}, "axis": null}, "y": {"field": "d", "type": "quantitative", "scale": {"domain": [0, 1, 2, 3], "range": [40, 49, 58, 95], "nice": false, "zero": false}, "axis": null}, "detail": {"field": "g"}, "order": {"field": "d"}}},
       {"data": {"name": "l3"}, "mark": {"type": "text", "font": "Liberation Sans", "fontSize": 19, "fontWeight": "bold", "angle": 270, "color": "#111"}, "encoding": {"x": {"field": "ppm", "type": "quantitative"}, "y": {"datum": 2.5, "type": "quantitative"}, "text": {"field": "t"}}}
     ]},
     {"width": 1300, "height": 160, "layer": [
       {"data": {"name": "s4"}, "mark": {"type": "line", "color": "#1a1a1a", "strokeWidth": 1.3, "clip": true}, "encoding": {
         "x": {"field": "ppm", "type": "quantitative", "scale": {"domain": [133, 150], "range": [1052.7, 253.3], "nice": false, "zero": false}, "axis": {"title": null, "format": "d", "values": [150,149,148,147,146,145,144,143,142,141,140,139,138,137,136,135,134,133], "labelExpr": "datum.value == 133 ? 'ppm' : ((datum.value % 2 == 0 && datum.value >= 136 && datum.value <= 148) ? datum.label : '')", "tickSize": {"condition": {"test": "datum.value % 2 == 0", "value": 8}, "value": 4}, "labelAlign": {"condition": {"test": "datum.value == 133", "value": "right"}, "value": "center"}}},
         "y": {"field": "v", "type": "quantitative", "scale": {"domain": [-20, 140], "nice": false, "zero": false}, "axis": null}}},
       {"data": {"values": [{"ppm": 140.69, "v": 98, "t": "190-MWL"}]}, "mark": {"type": "text", "font": "Liberation Serif", "fontSize": 23, "fontWeight": "bold", "color": "#111"}, "encoding": {"x": {"field": "ppm", "type": "quantitative"}, "y": {"field": "v", "type": "quantitative"}, "text": {"field": "t"}}}
     ]},
     {"width": 1300, "height": 100, "layer": [
       {"data": {"name": "b4"}, "mark": {"type": "line", "color": "#444", "strokeWidth": 1.2}, "encoding": {"x": {"field": "ppm", "type": "quantitative", "scale": {"domain": [133, 150], "range": [1052.7, 253.3], "nice": false, "zero": false}, "axis": null}, "y": {"field": "d", "type": "quantitative", "scale": {"domain": [0, 1, 2, 3], "range": [40, 49, 58, 95], "nice": false, "zero": false}, "axis": null}, "detail": {"field": "g"}, "order": {"field": "d"}}},
       {"data": {"name": "l4"}, "mark": {"type": "text", "font": "Liberation Sans", "fontSize": 19, "fontWeight": "bold", "angle": 270, "color": "#111"}, "encoding": {"x": {"field": "ppm", "type": "quantitative"}, "y": {"datum": 2.5, "type": "quantitative"}, "text": {"field": "t"}}}
     ]},
     {"width": 1300, "height": 42, "layer": [
       {"data": {"values": [{"ppm":148.95},{"ppm":146.1},{"ppm":144.47},{"ppm":143.23},{"ppm":142.2},{"ppm":141.42},{"ppm":140.2},{"ppm":138.8},{"ppm":138.3},{"ppm":137.22},{"ppm":135.64},{"ppm":134.01}]}, "mark": {"type": "rule", "color": "#111", "strokeWidth": 2.5}, "encoding": {"x": {"field": "ppm", "type": "quantitative", "scale": {"domain": [133, 150], "range": [1052.7, 253.3], "nice": false, "zero": false}, "axis": null}}},
       {"data": {"values": [{"ppm":143.9,"t":"CS"},{"ppm":142.73,"t":"NS"},{"ppm":141.82,"t":"CG"},{"ppm":139.47,"t":"NG"},{"ppm":134.83,"t":"COOH"}]}, "mark": {"type": "text", "font": "Liberation Serif", "fontSize": 22, "fontWeight": "bold", "color": "#111", "dy": 7}, "encoding": {"x": {"field": "ppm", "type": "quantitative"}, "text": {"field": "t"}}},
       {"data": {"values": [{"ppm":147.53,"t":"Aliphatic"},{"ppm":137.66,"t":"PB"}]}, "mark": {"type": "text", "font": "Liberation Serif", "fontSize": 20, "fontWeight": "bold", "color": "#111", "dy": -9}, "encoding": {"x": {"field": "ppm", "type": "quantitative"}, "text": {"field": "t"}}},
       {"data": {"values": [{"ppm":147.53,"t":"-OH"},{"ppm":137.66,"t":"-OH"}]}, "mark": {"type": "text", "font": "Liberation Serif", "fontSize": 20, "fontWeight": "bold", "color": "#111", "dy": 12}, "encoding": {"x": {"field": "ppm", "type": "quantitative"}, "text": {"field": "t"}}}
     ]},
     {"width": 1300, "height": 118, "layer": [
       {"data": {"values": [{"line": 1, "t": "Fig. 3"}]}, "mark": {"type": "text", "font": "Lato", "fontSize": 22, "fontWeight": "bold", "color": "#111", "align": "left"}, "encoding": {"x": {"datum": 0, "type": "quantitative", "scale": {"domain": [0, 1], "nice": false, "zero": false}, "axis": null}, "y": {"field": "line", "type": "ordinal", "scale": {"type": "point", "domain": [1, 2, 3], "range": [46, 103], "padding": 0}, "axis": null}, "text": {"field": "t"}}},
       {"data": {"values": [{"line": 1, "t": "31"}]}, "mark": {"type": "text", "font": "Lato", "fontSize": 14, "color": "#111", "align": "left", "dx": 58, "dy": -7}, "encoding": {"x": {"datum": 0, "type": "quantitative"}, "y": {"field": "line", "type": "ordinal"}, "text": {"field": "t"}}},
       {"data": {"values": [{"line": 1, "t": "P-NMR\u2002\u2006spectra\u2002\u2006of\u2002\u2006the\u2002\u2006isolated\u2002\u2006lignins.\u2002\u2006Abbreviation:\u2004\u2005CS,\u2002\u2006condensed\u2002\u2006syringyl\u2002\u2006phenolic\u2002\u2006hydroxyls;\u2004\u2005NS,\u2002\u2006non-condensed"}]}, "mark": {"type": "text", "font": "Lato", "fontSize": 22, "color": "#111", "align": "left", "dx": 74}, "encoding": {"x": {"datum": 0, "type": "quantitative"}, "y": {"field": "line", "type": "ordinal"}, "text": {"field": "t"}}},
       {"data": {"values": [{"line": 2, "t": "syringyl\u2004phenolic\u2004hydroxyls;\u2002CG,\u2004condensed\u2004guaiacyl\u2004phenolic\u2004hydroxyls;\u2002NG,\u2004non-condensed\u2004guaiacyl\u2004phenolic\u2004hydroxyls;\u2004PB-OH,"}]}, "mark": {"type": "text", "font": "Lato", "fontSize": 22, "color": "#111", "align": "left"}, "encoding": {"x": {"datum": 0, "type": "quantitative"}, "y": {"field": "line", "type": "ordinal"}, "text": {"field": "t"}}},
       {"data": {"values": [{"line": 2, "t": "p-"}]}, "mark": {"type": "text", "font": "Lato", "fontSize": 22, "fontStyle": "italic", "color": "#111", "align": "right"}, "encoding": {"x": {"datum": 1, "type": "quantitative"}, "y": {"field": "line", "type": "ordinal"}, "text": {"field": "t"}}},
       {"data": {"values": [{"line": 3, "t": "hydroxybenzoate phenolic hydroxyls; COOH, carboxylic groups."}]}, "mark": {"type": "text", "font": "Lato", "fontSize": 22, "color": "#111", "align": "left"}, "encoding": {"x": {"datum": 0, "type": "quantitative"}, "y": {"field": "line", "type": "ordinal"}, "text": {"field": "t"}}}
     ]}
   ], "spacing": 0, "bounds": "flush"}
 ], "spacing": 10, "bounds": "flush"}
]
}
